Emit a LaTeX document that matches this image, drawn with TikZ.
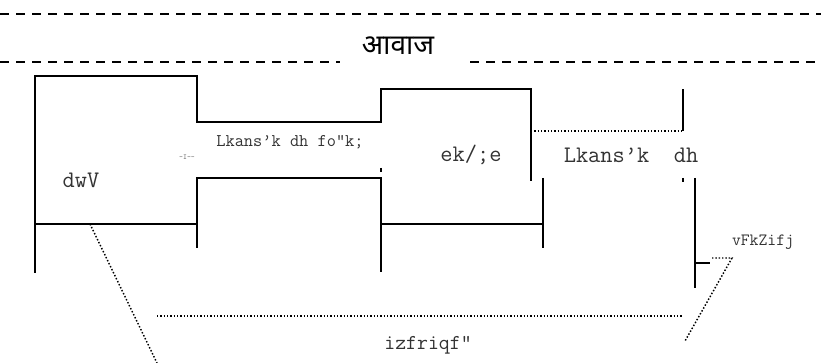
\documentclass[tikz,border=0pt]{standalone}
\usepackage{fontspec}
\newfontfamily\devfont[Script=Devanagari]{Noto Sans}

\tikzset{
  wall/.style={line width=1.5pt},
  thinwall/.style={line width=0.8pt},
  guide/.style={line width=1.2pt, dash pattern=on 6.8pt off 5.2pt},
  leader/.style={line width=1.1pt, dash pattern=on 1.1pt off 1.4pt},
  lbl/.style={font=\ttfamily\fontsize{#1}{#1}\selectfont, text=black!80, inner sep=0pt}
}

\begin{document}
\begin{tikzpicture}[x=0.75pt, y=-0.75pt]
        \useasboundingbox (0,0) rectangle (821,363);

        \node (awaj) at (398,46) {\devfont\fontsize{21}{21}\selectfont आवाज};
        \draw [guide] (0,14) -- (821,14);
        \draw [guide] (0,62) -- (340,62);
        \draw [guide] (470,62) -- (821,62);

        \node [lbl=13.4] (vishay) at (290,142) {Lkans’k dh fo”k;};
        \node [lbl=5.5, text=black!60] (frag) at (187,157) {-I--};
        \node [lbl=17.8] (kut) at (81,180) {dwV};
        \node [lbl=17.8] (madhyam) at (471,155) {ek/;e};
        \node [lbl=17.8] (sandesh) at (631,155) {Lkans’k\ \ dh};
        \node [lbl=12.9] (arth) at (763,242) {vFkZifj};
        \node [lbl=15.9] (prati) at (428,345) {izfriqf”};

        \draw [wall] (35,273) -- (35,76) -- (197,76) -- (197,122) -- (381,122) -- (381,89)
              -- (531,89) -- (531,131);
        \draw [thinwall] (531,131) -- (531,181);
        \draw [leader, line width=0.8pt] (531,131) -- (683,131);
        \draw [wall] (683,131) -- (683,89);
        \draw [thinwall] (381,168) -- (381,172);
        \draw [wall] (683,178) -- (683,182);

        \draw [wall] (197,248) -- (197,178) -- (381,178) -- (381,272);
        \draw [wall] (35,224) -- (197,224);
        \draw [wall] (381,224) -- (543,224);
        \draw [wall] (543,178) -- (543,248);
        \draw [wall] (695,178) -- (695,288);
        \draw [wall] (695,263) coordinate (stub) -- (710,263);

        \coordinate (kutfoot) at (90,224);
        \coordinate (hook) at (712,258);
        \draw [leader] (kutfoot) -- (157,363);
        \draw [leader] (157,316) -- (683,316);
        \draw [leader] (hook) -- (732,258) -- (685,341);
\end{tikzpicture}
\end{document}
